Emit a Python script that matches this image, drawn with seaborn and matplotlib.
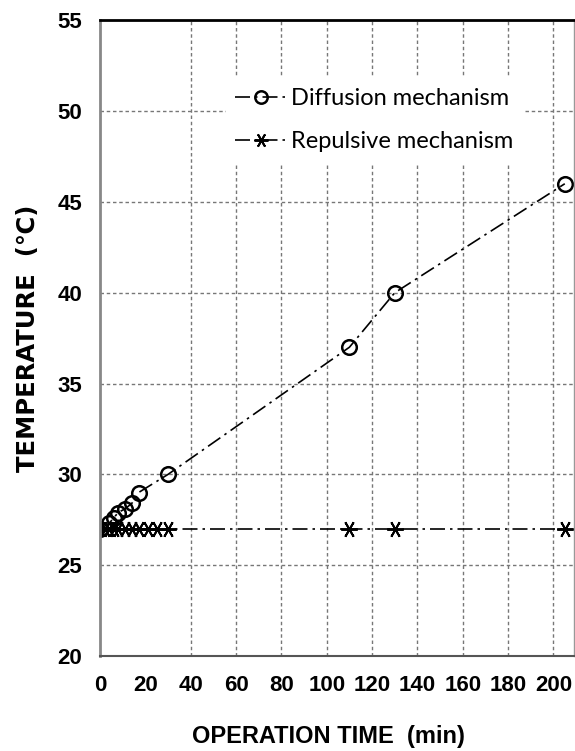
import matplotlib
matplotlib.use("Agg")
import matplotlib.pyplot as plt
import seaborn as sns
import pandas as pd

time_diff = [0, 4, 6, 8, 11, 14, 17, 30, 110, 130, 205]
temp_diff = [27.0, 27.3, 27.6, 27.9, 28.1, 28.4, 29.0, 30.0, 37.0, 40.0, 46.0]
time_rep = [0, 2, 4, 6, 8, 11, 14, 17, 21, 25, 30, 110, 130, 205]
temp_rep = [27.0] * len(time_rep)
labels = ["Diffusion mechanism", "Repulsive mechanism"]
x_ticks = [0, 20, 40, 60, 80, 100, 120, 140, 160, 180, 200]
y_ticks = [20, 25, 30, 35, 40, 45, 50, 55]

sns.set_theme(style="white")
plt.rcParams['font.family'] = ['Liberation Sans Narrow', 'Liberation Sans', 'DejaVu Sans']
plt.rcParams['text.color'] = 'black'
plt.rcParams['xtick.color'] = 'black'
plt.rcParams['ytick.color'] = 'black'
plt.rcParams['axes.labelcolor'] = 'black'

fig = plt.figure(figsize=(5.75, 7.51), dpi=100)
ax = fig.add_axes([0.174, 0.1265, 0.824, 0.8465])

df1 = pd.DataFrame({"t": time_diff, "T": temp_diff})
df2 = pd.DataFrame({"t": time_rep, "T": temp_rep})

ls = (0, (9, 3, 1.5, 3))
sns.lineplot(data=df1, x="t", y="T", ax=ax, color="black", linestyle=ls,
             linewidth=1.2, marker="o", markersize=10.5, markerfacecolor="none",
             markeredgecolor="black", markeredgewidth=1.8, label=labels[0])
sns.lineplot(data=df2, x="t", y="T", ax=ax, color="black", linestyle=ls,
             linewidth=1.2, marker=(6, 2, 30), markersize=12,
             markeredgecolor="black", markeredgewidth=1.4, label=labels[1])

ax.set_xlim(0, 209)
ax.set_ylim(20, 55)
ax.set_xticks(x_ticks)
ax.set_yticks(y_ticks)
ax.set_xticklabels([str(v) for v in x_ticks], fontsize=16, fontweight="bold")
ax.set_yticklabels([str(v) for v in y_ticks], fontsize=16, fontweight="bold")
ax.tick_params(axis="x", length=0, pad=14)
ax.tick_params(axis="y", length=0, pad=13)

ax.grid(True, color="#777777", linestyle=(0, (2.5, 2)), linewidth=1.0)
xg = ax.xaxis.get_gridlines()
xg[0].set_visible(False)
xg[1].set_visible(False)
for g in [ax.yaxis.get_gridlines()[0], ax.yaxis.get_gridlines()[-1]]:
    g.set_visible(False)

ax.set_xlabel("OPERATION TIME  (min)", fontsize=17, fontweight="bold")
ax.xaxis.set_label_coords(0.483, -0.108)
ax.set_ylabel("TEMPERATURE  (℃)", fontsize=17.5, fontweight="bold",
              family=['Liberation Sans Narrow', 'DejaVu Sans'])
ax.yaxis.set_label_coords(-0.126, 0.5)

for side, c, w in [("left", "#888888", 2.0), ("bottom", "#555555", 1.5),
                   ("top", "black", 2.0), ("right", "#999999", 1.0)]:
    ax.spines[side].set_visible(True)
    ax.spines[side].set_color(c)
    ax.spines[side].set_linewidth(w)

leg = ax.legend(loc="upper left", bbox_to_anchor=(0.241, 0.927), frameon=True,
                handlelength=2.2, handletextpad=0.15, labelspacing=0.95,
                borderpad=0.4, markerscale=0.85,
                prop={"family": "Lato", "size": 17})
leg.get_frame().set_facecolor("white")
leg.get_frame().set_edgecolor("white")
leg.get_frame().set_alpha(1)
for t in leg.get_texts():
    t.set_color("black")

fig.savefig("out.png", dpi=100)
